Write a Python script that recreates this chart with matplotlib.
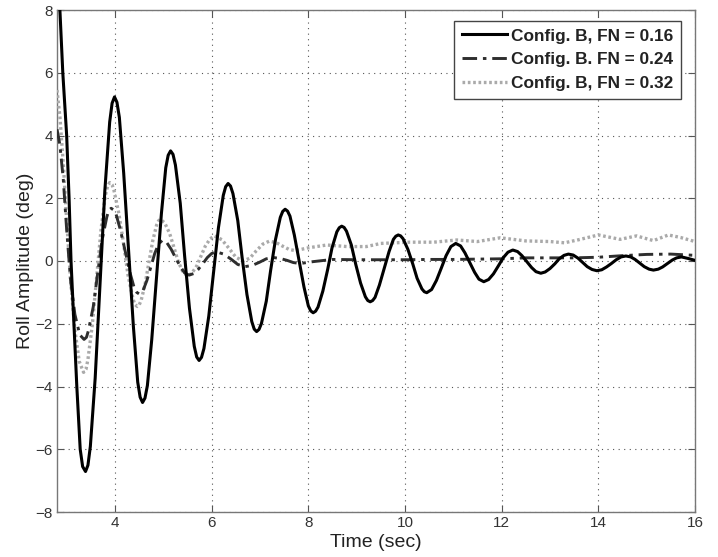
import matplotlib
matplotlib.use("Agg")
import matplotlib.pyplot as plt

plt.rcParams['font.family'] = ['Liberation Sans', 'DejaVu Sans']

# ---- data ----
t_fn016 = [2.80, 2.86, 2.92, 3.00, 3.05, 3.09, 3.15, 3.21, 3.28, 3.33, 3.39,
           3.44, 3.49, 3.59, 3.69, 3.79, 3.89, 3.94, 3.99,
           4.04, 4.09, 4.18, 4.28, 4.38, 4.47, 4.52, 4.57,
           4.62, 4.67, 4.76, 4.86, 4.96, 5.05, 5.10, 5.15,
           5.20, 5.25, 5.35, 5.44, 5.54, 5.64, 5.69, 5.74,
           5.79, 5.84, 5.94, 6.04, 6.14, 6.24, 6.29, 6.34,
           6.39, 6.44, 6.54, 6.63, 6.73, 6.83, 6.88, 6.93,
           6.98, 7.03, 7.13, 7.22, 7.32, 7.42, 7.47, 7.52,
           7.57, 7.62, 7.71, 7.81, 7.91, 8.00, 8.05, 8.10,
           8.15, 8.20, 8.30, 8.40, 8.49, 8.59, 8.64, 8.69,
           8.74, 8.79, 8.89, 8.98, 9.08, 9.18, 9.23, 9.28,
           9.33, 9.38, 9.47, 9.57, 9.67, 9.76, 9.81, 9.86,
           9.91, 9.96, 10.06, 10.16, 10.25, 10.35, 10.40, 10.45,
           10.55, 10.65, 10.75, 10.85, 10.95, 11.05,
           11.15, 11.24, 11.34, 11.44, 11.53, 11.63,
           11.73, 11.83, 11.93, 12.03, 12.13, 12.23,
           12.33, 12.42, 12.52, 12.62, 12.71, 12.81,
           12.90, 13.00, 13.10, 13.19, 13.29, 13.38,
           13.48, 13.58, 13.68, 13.77, 13.87, 13.97,
           14.07, 14.17, 14.27, 14.37, 14.47, 14.57,
           14.67, 14.76, 14.86, 14.95, 15.05, 15.14,
           15.24, 15.33, 15.43, 15.53, 15.62, 15.72,
           15.86, 16.00]
y_fn016 = [9.80, 8.00, 6.00, 4.00, 2.00, 0.00, -2.00, -4.00, -6.00, -6.55, -6.71,
           -6.51, -5.91, -3.73, -0.74, 2.25, 4.43, 5.03, 5.23,
           5.06, 4.58, 2.80, 0.36, -2.08, -3.86, -4.34, -4.51,
           -4.37, -3.97, -2.51, -0.50, 1.51, 2.97, 3.37, 3.51,
           3.40, 3.06, 1.84, 0.17, -1.50, -2.72, -3.06, -3.17,
           -3.07, -2.79, -1.76, -0.35, 1.06, 2.09, 2.37, 2.47,
           2.39, 2.15, 1.29, 0.11, -1.07, -1.93, -2.17, -2.25,
           -2.18, -1.99, -1.28, -0.30, 0.68, 1.39, 1.58, 1.65,
           1.59, 1.43, 0.83, 0.00, -0.83, -1.43, -1.59, -1.65,
           -1.60, -1.47, -0.96, -0.27, 0.42, 0.93, 1.06, 1.11,
           1.07, 0.95, 0.51, -0.10, -0.70, -1.14, -1.26, -1.30,
           -1.26, -1.16, -0.77, -0.24, 0.30, 0.69, 0.79, 0.83,
           0.80, 0.71, 0.37, -0.09, -0.55, -0.89, -0.98, -1.01,
           -0.91, -0.62, -0.23, 0.17, 0.46, 0.56,
           0.48, 0.26, -0.05, -0.36, -0.58, -0.66,
           -0.59, -0.41, -0.16, 0.10, 0.28, 0.35,
           0.30, 0.17, -0.02, -0.21, -0.34, -0.39,
           -0.35, -0.24, -0.09, 0.07, 0.18, 0.22,
           0.19, 0.09, -0.05, -0.18, -0.27, -0.31,
           -0.28, -0.19, -0.08, 0.04, 0.13, 0.16,
           0.13, 0.05, -0.07, -0.18, -0.26, -0.29,
           -0.26, -0.19, -0.08, 0.03, 0.10, 0.13,
           0.08, 0.02]

t_fn024 = [2.80, 2.86, 2.93, 3.00, 3.08, 3.17, 3.27, 3.36,
           3.41, 3.45, 3.55, 3.64, 3.73, 3.83, 3.87, 3.92,
           3.97, 4.02, 4.11, 4.21, 4.31, 4.40, 4.45, 4.50,
           4.58, 4.66, 4.74, 4.82, 4.90, 4.98,
           5.07, 5.16, 5.25, 5.35, 5.44, 5.53,
           5.63, 5.72, 5.82, 5.91, 6.00, 6.10,
           6.25, 6.40, 6.54, 6.69,
           6.84, 6.99, 7.13, 7.28,
           7.42, 7.56, 7.69, 7.83,
           8.10, 8.50, 9.00, 9.50, 10.00, 10.50, 11.00, 11.50, 12.00,
           12.50, 13.00, 13.50, 14.00, 14.50, 15.00, 15.50, 16.00]
y_fn024 = [4.20, 3.70, 2.60, 1.00, -0.60, -1.70, -2.35, -2.50,
           -2.43, -2.22, -1.46, -0.41, 0.64, 1.40, 1.61, 1.68,
           1.63, 1.50, 1.00, 0.32, -0.37, -0.87, -1.00, -1.05,
           -0.94, -0.62, -0.20, 0.23, 0.54, 0.66,
           0.59, 0.38, 0.11, -0.17, -0.38, -0.45,
           -0.40, -0.27, -0.08, 0.11, 0.24, 0.29,
           0.22, 0.06, -0.11, -0.18,
           -0.14, -0.04, 0.07, 0.11,
           0.08, 0.02, -0.05, -0.08,
           -0.02, 0.05, 0.04, 0.04, 0.04, 0.05, 0.05, 0.06, 0.07,
           0.10, 0.10, 0.10, 0.12, 0.17, 0.21, 0.22, 0.18]

t_fn032 = [2.80, 2.86, 2.93, 3.00, 3.08, 3.17, 3.26, 3.35,
           3.40, 3.44, 3.53, 3.62, 3.71, 3.80, 3.85, 3.89,
           3.94, 3.98, 4.08, 4.18, 4.27, 4.37, 4.41, 4.46,
           4.50, 4.54, 4.62, 4.70, 4.78, 4.86, 4.90, 4.94,
           5.03, 5.13, 5.22, 5.31, 5.41, 5.50,
           5.59, 5.69, 5.78, 5.87, 5.97, 6.06,
           6.21, 6.36, 6.50, 6.65,
           6.79, 6.92, 7.06, 7.19,
           7.33, 7.46, 7.60, 7.73,
           8.00, 8.38, 8.80, 9.20, 9.50, 10.10, 10.60, 11.07, 11.50, 11.97,
           12.50, 13.00, 13.30, 13.60, 14.00, 14.45, 14.79, 15.14, 15.45, 15.70, 16.00]
y_fn032 = [5.45, 4.60, 3.10, 1.30, -0.60, -2.20, -3.20, -3.55,
           -3.45, -3.14, -2.04, -0.53, 0.99, 2.09, 2.40, 2.50,
           2.43, 2.24, 1.51, 0.53, -0.46, -1.19, -1.38, -1.45,
           -1.40, -1.26, -0.76, -0.06, 0.64, 1.14, 1.28, 1.33,
           1.21, 0.88, 0.43, -0.03, -0.36, -0.48,
           -0.39, -0.16, 0.16, 0.48, 0.71, 0.80,
           0.68, 0.40, 0.12, 0.00,
           0.09, 0.32, 0.54, 0.63,
           0.59, 0.48, 0.37, 0.33,
           0.42, 0.51, 0.46, 0.46, 0.56, 0.60, 0.60, 0.67, 0.62, 0.74,
           0.64, 0.62, 0.58, 0.68, 0.83, 0.69, 0.80, 0.65, 0.83, 0.75, 0.62]

labels = ['Config. B, FN = 0.16', 'Config. B. FN = 0.24', 'Config. B, FN = 0.32']
x_ticks = [4, 6, 8, 10, 12, 14, 16]
y_ticks = [-8, -6, -4, -2, 0, 2, 4, 6, 8]

# ---- figure ----
fig = plt.figure(figsize=(7.18, 5.57), dpi=100)
ax = fig.add_axes([57/718, 1-512/557, (695-57)/718, (512-10)/557])

ax.plot(t_fn016, y_fn016, color='black', lw=2.2, ls='-', label=labels[0],
        solid_joinstyle='round', zorder=5)
ax.plot(t_fn024, y_fn024, color='#2e2e2e', lw=2.1, ls=(0, (5, 2, 1.2, 2)),
        label=labels[1], zorder=4)
ax.plot(t_fn032, y_fn032, color='#aaaaaa', lw=2.4, ls=(0, (0.8, 0.8)),
        label=labels[2], zorder=3)

ax.set_xlim(2.8, 16)
ax.set_ylim(-8, 8)
ax.set_xticks(x_ticks)
ax.set_yticks(y_ticks)
ax.grid(True, color='#555555', lw=0.8, ls=(0, (1, 4)))
ax.tick_params(direction='in', top=True, right=True, length=5, width=0.8,
               colors='#555555', labelcolor='#333333', labelsize=11, pad=3)
for s in ax.spines.values():
    s.set_color('#777777')
    s.set_linewidth(1.0)

ax.set_xlabel('Time (sec)', fontsize=14, color='#222222', labelpad=3)
ax.set_ylabel('Roll Amplitude (deg)', fontsize=14, color='#222222', labelpad=1)

leg = ax.legend(loc='upper right', bbox_to_anchor=(681/718, 1-20.7/557),
                bbox_transform=fig.transFigure, borderaxespad=0,
                fancybox=False, framealpha=1, edgecolor='#444444',
                prop={'weight': 'bold', 'size': 12.4}, handlelength=2.6,
                handletextpad=0.25, labelspacing=0.5, borderpad=0.45)
leg.get_frame().set_linewidth(1.0)
for txt in leg.get_texts():
    txt.set_color('#222222')

fig.savefig('out.png', dpi=100)
